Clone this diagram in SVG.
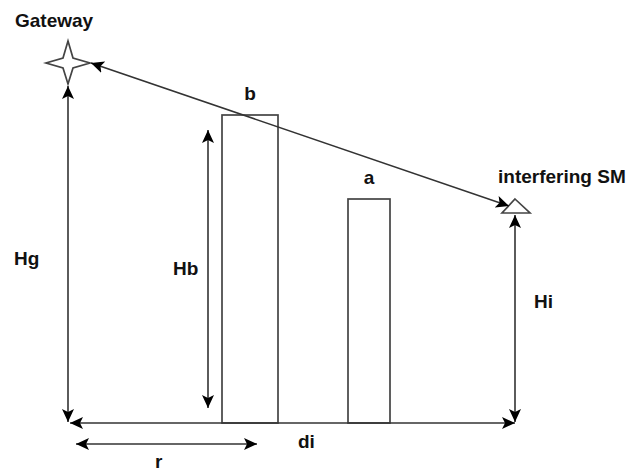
<svg xmlns="http://www.w3.org/2000/svg" width="644" height="471" viewBox="0 0 644 471">
<style>
.s{fill:#fff;stroke:#444;stroke-width:1.7}
.c{fill:none;stroke:#333;stroke-width:1.6;marker-start:url(#m);marker-end:url(#m)}
text{font-family:"Liberation Sans",Arial,sans-serif;font-weight:bold;fill:#111;font-size:19px}
</style>
<defs>
<marker id="m" viewBox="0 0 14 14" refX="13" refY="7" markerWidth="14" markerHeight="14" markerUnits="userSpaceOnUse" orient="auto-start-reverse">
<path d="M0 1L13 7L0 13L3 7Z" fill="#000"/>
</marker>
</defs>
<rect width="644" height="471" fill="#fff"/>
<g id="node-gateway">
<path class="s" d="M68 41L73 58L90 63L73 68L68 84L63 68L46 63L63 58Z"/>
<text x="15" y="27">Gateway</text>
</g>
<g id="node-b">
<rect class="s" x="222" y="115" width="56" height="308"/>
<text x="250" y="100" text-anchor="middle">b</text>
</g>
<g id="node-a">
<rect class="s" x="348" y="199" width="42" height="224"/>
<text x="369" y="184" text-anchor="middle">a</text>
</g>
<g id="node-sm">
<path class="s" d="M515 199L530 213H502Z"/>
<text x="498" y="183">interfering SM</text>
</g>
<g id="connectors">
<path class="c" d="M91 63L509 206"/>
<path class="c" d="M68 86V422"/>
<path class="c" d="M208 130V408"/>
<path class="c" d="M515 215V422"/>
<path class="c" d="M70 423H515"/>
<path class="c" d="M76 444H257"/>
</g>
<g id="labels">
<text x="14" y="265">Hg</text>
<text x="173" y="275">Hb</text>
<text x="534" y="308">Hi</text>
<text x="298" y="448">di</text>
<text x="155" y="468">r</text>
</g>
</svg>
